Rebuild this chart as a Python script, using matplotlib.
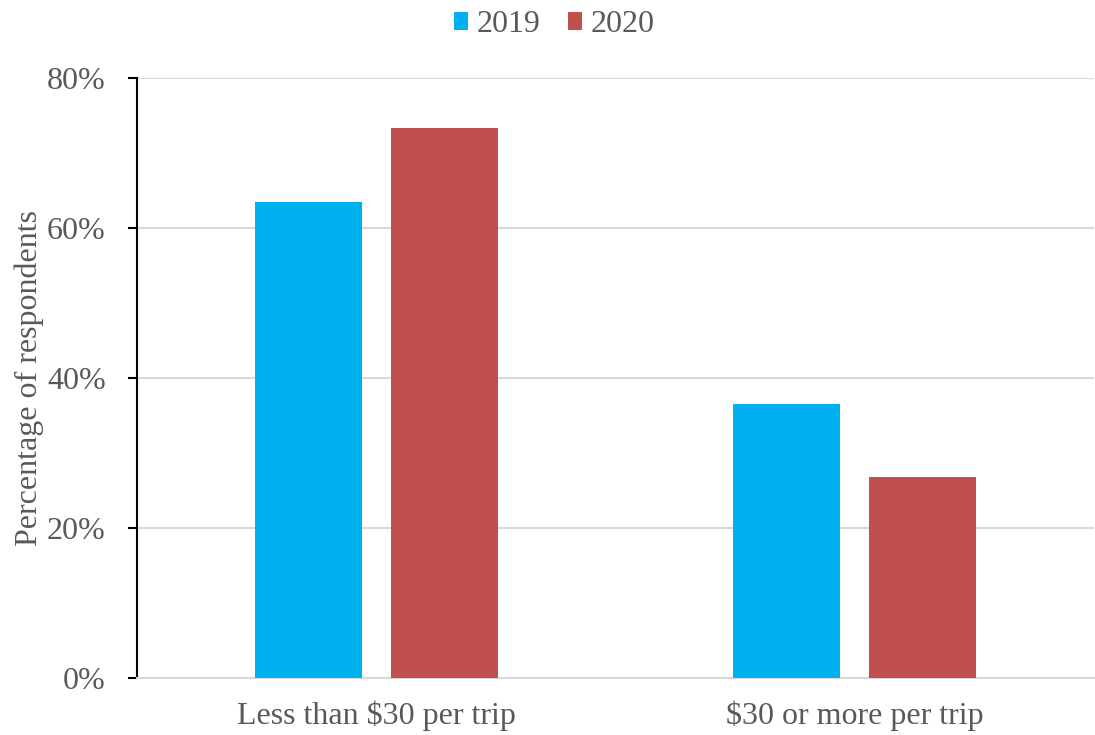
import matplotlib
matplotlib.use("Agg")
import matplotlib.pyplot as plt
from matplotlib.ticker import PercentFormatter
import numpy as np

categories = ["Less than $30 per trip", "$30 or more per trip"]
years = ["2019", "2020"]
share_2019 = [63.5, 36.5]
share_2020 = [73.3, 26.8]
yticks = [0, 20, 40, 60, 80]

text_color = "#595959"
grid_color = "#D9D9D9"
colors = {"2019": "#00B0F0", "2020": "#C0504D"}

plt.rcParams["font.family"] = ["Liberation Serif", "DejaVu Serif"]
plt.rcParams["font.size"] = 23

fig = plt.figure(figsize=(10.95, 7.35), dpi=100)
ax = fig.add_axes([0.1251, 0.0776, 0.874, 0.8163])

x = np.arange(len(categories))
width = 0.223
offset = 0.142
ax.bar(x - offset, share_2019, width, color=colors["2019"], label="2019", zorder=3)
ax.bar(x + offset, share_2020, width, color=colors["2020"], label="2020", zorder=3)

ax.set_xlim(-0.5, len(categories) - 0.5)
ax.set_ylim(0, 80)
ax.set_yticks(yticks)
ax.yaxis.set_major_formatter(PercentFormatter(decimals=0))
ax.set_xticks(x)
ax.set_xticklabels(categories)

ax.grid(axis="y", color=grid_color, linewidth=1.5, zorder=0)
ax.set_axisbelow(True)
for side in ["top", "right"]:
    ax.spines[side].set_visible(False)
ax.spines["bottom"].set_color(grid_color)
ax.spines["bottom"].set_linewidth(1.5)
ax.spines["left"].set_color("black")
ax.spines["left"].set_linewidth(1.5)

ax.tick_params(axis="y", direction="out", length=6.5, width=1.5, color="black",
               labelcolor=text_color, labelsize=23, pad=16)
ax.tick_params(axis="x", length=0, labelcolor=text_color, labelsize=23, pad=16)

ax.set_ylabel("Percentage of respondents", color=text_color, fontsize=23, labelpad=2)

fig.legend(loc="upper center", bbox_to_anchor=(0.506, 1.025), ncol=2, frameon=False,
           fontsize=23, handlelength=0.45, handleheight=0.45, handletextpad=0.26,
           columnspacing=0.87, labelcolor=text_color)

fig.savefig("out.png", dpi=100)
